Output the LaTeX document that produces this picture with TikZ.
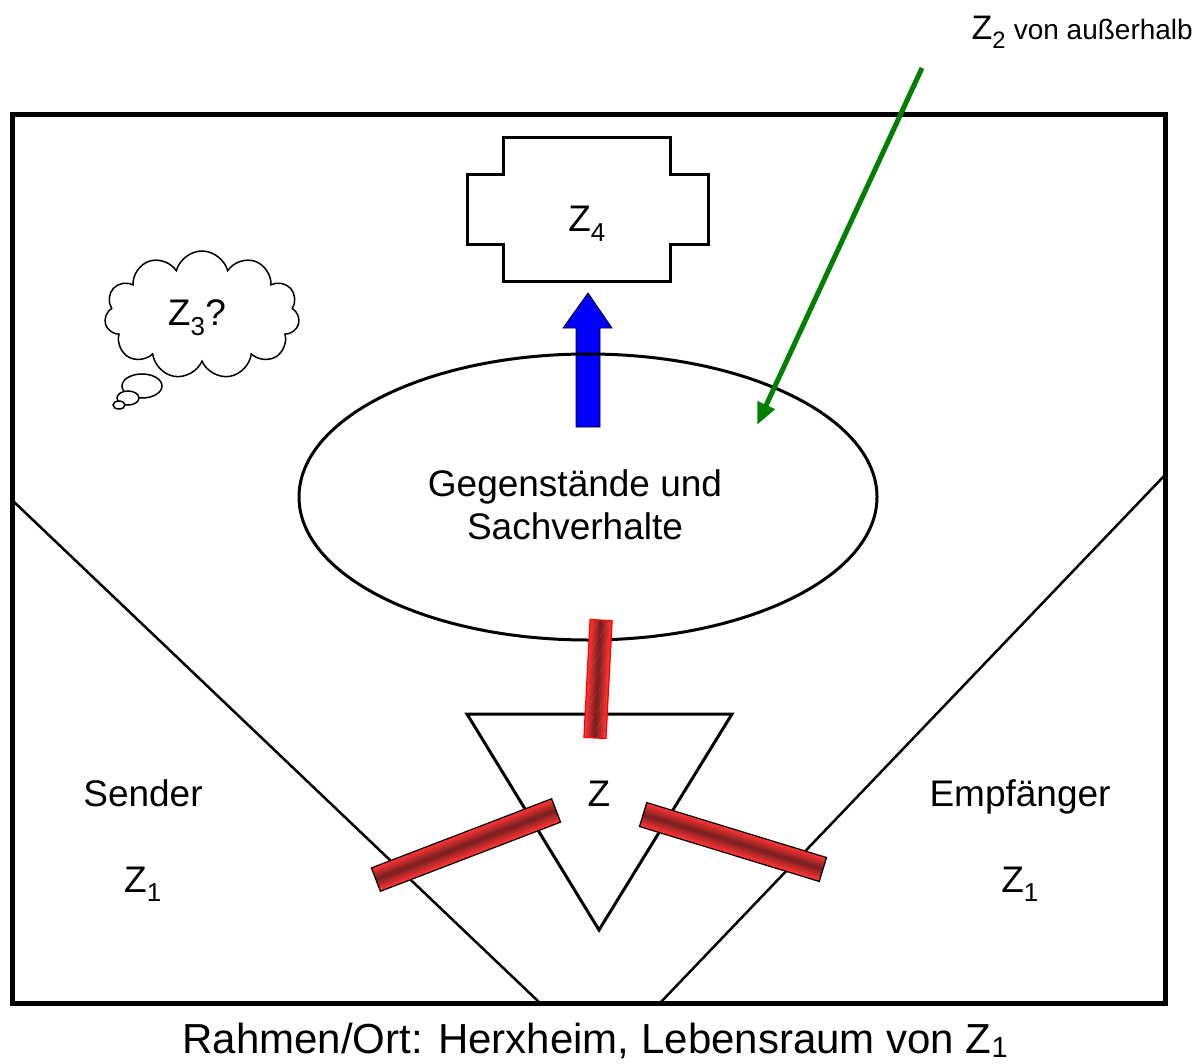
\documentclass[tikz,border=0pt]{standalone}
\usepackage{fontspec}
\setmainfont{Liberation Sans}
\usetikzlibrary{shapes.symbols, arrows.meta}

\colorlet{baredge}{red!80!white}
\definecolor{bardark}{RGB}{115,30,30}

\begin{document}
\begin{tikzpicture}[x=1pt, y=-1pt,
    lbl/.style={font=\fontsize{37}{43}\selectfont, align=center, inner sep=0pt},
    baselbl/.style={lbl, anchor=base},
    thick line/.style={line width=3pt}]

  \useasboundingbox (0,0) rectangle (1201,1064);

  % Frame and funnel
  \draw[line width=5pt] (12,115) rectangle (1165,1003);
  \draw[line width=2.5pt] (12,500) -- (540,1003);
  \draw[line width=2.5pt] (1165,475) -- (660,1003);

  % Upper part
  \draw[thick line] (503,138) -- (670,138) -- (670,175) -- (708,175)
    -- (708,245) -- (670,245) -- (670,282) -- (503,282) -- (503,245)
    -- (467,245) -- (467,175) -- (503,175) -- cycle;
  \node[baselbl] (z4) at (587,232) {Z\textsubscript{4}};

  \draw[fill=blue, draw=black, line width=0.8pt] (576,427) -- (576,328)
    -- (563,328) -- (588,293) -- (612,328) -- (600,328) -- (600,427) -- cycle;

  \draw[thick line] (588,497) ellipse [x radius=289, y radius=143];
  \node[lbl] (sach) at (575,505) {Gegenstände und\\Sachverhalte};

  % Thought cloud
  \node[cloud, draw, line width=1.5pt, cloud puffs=11, aspect=1.5,
    minimum width=195pt, minimum height=128pt] (cloud) at (202,315) {};
  \node[baselbl] (z3) at (197,326) {Z\textsubscript{3}?};
  \foreach \cx/\cy/\rx/\ry in {142/386/20/12, 128/398/11/7, 119/405/6/4} {
    \draw[line width=1.5pt, fill=white] (\cx,\cy) ellipse [x radius=\rx, y radius=\ry];
  }

  % Outside
  \coordinate (z2start) at (922,68);
  \coordinate (z2end) at (757,425);
  \draw[line width=5pt, draw={rgb,255:red,0;green,128;blue,0},
    -{Triangle[length=22pt, width=18pt]}] (z2start) -- (z2end);
  \node[inner sep=0pt, anchor=base east] (z2) at (1193,40)
    {\fontsize{34}{40}\selectfont Z\textsubscript{2}\fontsize{28}{34}\selectfont\ von außerhalb};

  % Triangle
  \draw[thick line] (467,714) -- (732,714) -- (599,930) -- cycle;
  \node[baselbl] (z) at (599,806) {Z};

  \node[baselbl] (sender) at (143,806) {Sender};
  \node[baselbl] (z1l) at (143,892) {Z\textsubscript{1}};
  \node[baselbl] (empf) at (1020,806) {Empfänger};
  \node[baselbl] (z1r) at (1020,892) {Z\textsubscript{1}};

  % Links (shaded across their width)
  \foreach \bx/\by/\ang/\len/\wd/\col in {598/679/87/118/22/red,
      466/845/21/193/25/black, 733/842/-17/188/25/black} {
    \begin{scope}[shift={(\bx,\by)}, rotate=\ang]
      \foreach \k in {0,...,11} {
        \pgfmathsetmacro{\mix}{abs(\k-5.5)/5.5*100}
        \colorlet{barc}{baredge!\mix!bardark}
        \fill[barc] (-\len/2,-\wd/2+\k*\wd/12) rectangle (\len/2,-\wd/2+\k*\wd/12+\wd/12+0.4);
      }
      \draw[\col, line width=1.2pt] (-\len/2,-\wd/2) rectangle (\len/2,\wd/2);
    \end{scope}
  }

  % Caption
  \node[font=\fontsize{42}{50}\selectfont, inner sep=0pt, anchor=base] (caption) at (595,1053)
    {Rahmen/Ort: Herxheim, Lebensraum von Z\raisebox{-0.1em}{\fontsize{29}{29}\selectfont 1}};

\end{tikzpicture}
\end{document}
